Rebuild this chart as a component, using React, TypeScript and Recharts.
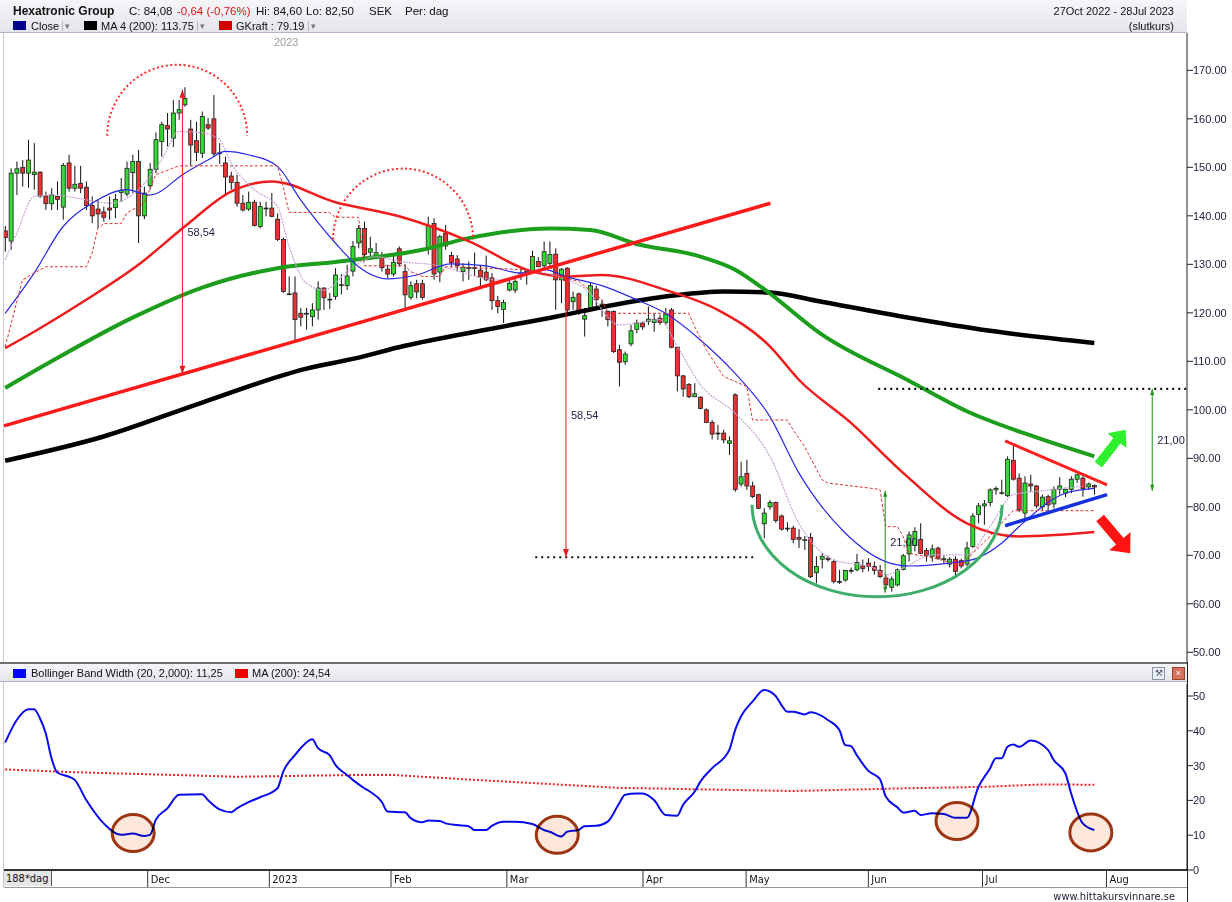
import React from 'react';
import { ComposedChart, Bar, Line, XAxis, YAxis, ReferenceLine, ReferenceDot } from 'recharts';

// Hexatronic Group, daily candles 27 Oct 2022 - 28 Jul 2023 (index = trading day)
const opens = [
  136.9, 134.8, 148.8, 150.0, 148.8, 148.5, 149.0, 144.1, 142.5, 144.0,
  141.8, 150.9, 145.7, 146.7, 145.9, 142.1, 141.4, 140.8, 141.6, 141.7,
  144.8, 144.5, 148.9, 151.2, 140.0, 146.2, 149.6, 155.3, 158.6, 156.0,
  161.2, 162.9, 157.9, 155.5, 152.9, 158.8, 160.0, 153.0, 150.9, 148.2,
  146.9, 142.6, 141.4, 142.8, 137.8, 141.6, 141.6, 139.3, 135.1, 123.9,
  124.1, 119.9, 119.9, 119.2, 120.6, 125.1, 122.8, 123.4, 125.8, 125.6,
  128.6, 134.4, 137.4, 132.5, 131.8, 131.8, 129.0, 128.0, 133.2, 128.5,
  123.2, 126.0, 126.0, 133.1, 138.4, 128.4, 136.4, 131.8, 131.1, 128.5,
  129.3, 129.3, 128.8, 128.4, 127.2, 122.5, 120.7, 124.7, 124.7, 128.2,
  128.6, 128.5, 130.6, 129.7, 130.2, 132.1, 126.8, 129.2, 122.3, 123.9,
  118.7, 120.7, 124.9, 121.8, 120.3, 120.3, 112.4, 109.9, 113.6, 116.6,
  117.9, 118.2, 118.0, 118.9, 118.0, 120.6, 112.9, 107.0, 105.2, 102.7,
  102.6, 100.0, 97.4, 95.2, 95.2, 93.1, 103.1, 84.7, 86.9, 84.3,
  82.5, 76.5, 80.0, 80.9, 78.1, 75.6, 75.6, 73.7, 73.2, 73.7,
  66.4, 69.2, 69.4, 68.7, 64.6, 64.9, 66.9, 67.0, 67.8, 68.4,
  67.7, 66.9, 65.3, 63.4, 63.9, 67.1, 70.3, 72.0, 73.3, 71.0,
  69.8, 71.5, 69.3, 68.2, 69.2, 68.9, 68.2, 71.8, 78.4, 80.2,
  80.9, 83.5, 82.9, 82.3, 89.6, 85.9, 78.7, 84.7, 84.3, 80.0,
  82.1, 80.6, 83.6, 82.8, 83.6, 85.7, 85.9, 84.1, 84.4,
];
const highs = [
  137.9, 149.8, 151.2, 151.5, 155.7, 155.0, 149.2, 145.0, 145.7, 147.1,
  150.9, 152.6, 150.3, 150.3, 147.1, 144.0, 143.3, 141.9, 144.0, 144.5,
  147.8, 151.2, 152.6, 153.6, 146.0, 150.9, 157.2, 159.4, 161.2, 163.9,
  163.9, 166.5, 159.8, 159.4, 161.5, 160.2, 164.9, 155.0, 152.2, 149.1,
  148.5, 144.3, 145.0, 143.3, 142.9, 142.9, 144.7, 140.5, 135.5, 127.5,
  127.5, 121.0, 121.0, 122.0, 126.5, 125.3, 124.1, 129.2, 128.0, 129.9,
  134.8, 138.1, 138.8, 135.7, 134.4, 132.6, 129.9, 132.3, 133.7, 130.1,
  126.5, 126.8, 126.8, 139.8, 139.5, 136.1, 138.1, 132.6, 131.9, 130.2,
  130.6, 132.4, 129.9, 131.8, 128.2, 123.5, 122.7, 126.8, 127.5, 128.9,
  128.9, 132.8, 131.5, 134.7, 134.7, 133.3, 129.2, 129.4, 124.4, 124.2,
  121.0, 126.1, 125.6, 122.7, 120.5, 120.5, 113.4, 112.0, 117.5, 118.6,
  118.2, 121.3, 119.9, 119.6, 121.0, 121.0, 113.1, 107.2, 105.5, 105.5,
  102.8, 100.3, 97.9, 96.9, 95.9, 94.5, 103.4, 89.3, 89.7, 85.2,
  82.7, 79.7, 81.4, 81.1, 78.4, 76.8, 76.1, 75.4, 74.0, 74.6,
  69.8, 70.4, 69.9, 69.1, 67.0, 67.0, 67.5, 70.3, 69.1, 69.4,
  68.7, 68.0, 66.0, 65.6, 67.3, 70.3, 74.9, 75.8, 76.6, 71.5,
  72.2, 71.8, 69.9, 69.6, 69.8, 69.3, 72.8, 78.7, 80.8, 81.4,
  83.8, 84.2, 85.6, 90.4, 92.8, 86.9, 86.3, 86.6, 84.5, 82.5,
  82.5, 84.2, 86.1, 84.0, 86.3, 86.8, 86.3, 85.0, 84.6,
];
const lows = [
  132.6, 133.0, 144.3, 146.0, 145.8, 145.4, 143.7, 141.2, 141.2, 141.2,
  139.2, 145.0, 145.0, 144.7, 141.2, 138.5, 137.5, 138.8, 139.2, 139.5,
  142.9, 144.0, 144.7, 134.4, 139.3, 145.4, 148.8, 152.2, 154.3, 154.2,
  159.8, 162.5, 150.2, 151.3, 151.9, 157.7, 152.2, 150.7, 144.3, 145.4,
  141.9, 140.9, 141.0, 137.8, 137.4, 139.9, 139.7, 134.8, 124.1, 123.7,
  114.4, 117.2, 116.5, 117.2, 118.6, 120.6, 120.8, 122.7, 123.8, 124.7,
  127.5, 133.3, 130.9, 130.9, 131.3, 128.5, 127.2, 127.5, 129.5, 121.0,
  122.7, 123.0, 122.7, 132.0, 126.8, 126.3, 133.0, 129.5, 128.5, 126.5,
  126.8, 127.5, 125.4, 126.5, 120.6, 119.9, 117.9, 124.4, 124.1, 126.8,
  125.8, 128.2, 129.4, 129.2, 129.5, 120.6, 122.0, 119.6, 120.6, 119.6,
  115.1, 120.3, 121.0, 119.2, 117.2, 111.7, 104.8, 109.3, 113.1, 115.8,
  116.5, 117.5, 116.1, 117.5, 117.5, 112.7, 103.8, 102.7, 102.4, 102.6,
  100.1, 97.3, 93.9, 93.8, 93.1, 90.7, 83.1, 84.2, 83.5, 81.8,
  79.5, 73.5, 79.4, 76.7, 75.1, 74.9, 72.5, 71.5, 71.1, 65.3,
  64.2, 67.3, 68.7, 64.2, 64.1, 64.6, 66.3, 66.7, 66.5, 66.7,
  66.0, 65.3, 63.2, 62.5, 63.6, 66.9, 68.7, 70.8, 70.3, 68.7,
  68.7, 69.1, 68.4, 67.5, 65.3, 67.3, 67.7, 71.5, 76.6, 76.3,
  80.1, 82.5, 82.5, 82.0, 85.4, 78.9, 77.5, 83.1, 79.7, 79.2,
  78.7, 79.7, 82.5, 82.0, 82.8, 84.9, 82.1, 83.5, 82.5,
];
const closes = [
  135.5, 148.8, 149.7, 148.8, 151.5, 149.0, 144.1, 142.5, 144.3, 143.4,
  150.4, 145.7, 146.5, 145.7, 142.1, 140.0, 140.4, 139.7, 141.2, 143.4,
  145.2, 149.8, 151.2, 140.0, 144.7, 149.6, 155.7, 158.8, 157.9, 161.2,
  161.9, 164.2, 154.6, 153.1, 160.5, 158.1, 152.8, 152.9, 148.0, 146.9,
  142.6, 141.2, 142.8, 138.0, 141.9, 141.6, 139.9, 135.1, 124.4, 123.9,
  118.6, 119.1, 119.9, 120.6, 125.1, 123.1, 122.8, 127.8, 125.8, 127.6,
  133.7, 137.4, 132.0, 133.2, 132.4, 129.3, 128.0, 130.4, 130.1, 123.7,
  125.6, 124.3, 123.2, 137.9, 128.0, 135.7, 133.8, 130.4, 129.7, 129.4,
  129.3, 129.3, 127.4, 126.8, 122.5, 121.3, 122.1, 126.1, 126.5, 128.2,
  128.6, 131.6, 129.5, 132.6, 132.0, 126.8, 129.0, 120.6, 123.2, 120.4,
  119.4, 125.6, 122.7, 121.2, 118.6, 112.0, 109.8, 111.5, 116.3, 117.9,
  117.1, 118.7, 118.6, 118.0, 119.7, 112.9, 107.0, 104.3, 102.7, 103.3,
  100.3, 97.4, 95.0, 95.2, 93.8, 93.6, 83.6, 86.2, 84.3, 82.1,
  79.7, 78.7, 80.9, 77.2, 75.4, 75.6, 73.3, 73.3, 73.2, 65.6,
  67.7, 69.8, 69.1, 64.6, 64.6, 66.9, 66.9, 68.5, 67.3, 67.7,
  66.9, 65.6, 63.9, 65.1, 67.0, 69.9, 74.2, 74.9, 70.4, 69.9,
  71.3, 69.4, 69.3, 69.2, 66.7, 67.8, 71.5, 78.1, 80.2, 80.6,
  83.5, 83.8, 82.9, 89.8, 85.7, 79.4, 84.9, 84.3, 80.2, 82.0,
  80.4, 83.6, 84.3, 83.6, 85.7, 86.6, 83.8, 84.7, 84.08,
];

// moving averages as [day index, value]
const ma200Pts = [[0, 89.5], [17, 94.5], [34, 101.5], [52, 108.5], [60, 110.5], [69, 113.2], [82, 116.3], [95, 119.2], [104, 121.4], [115, 123.5], [124, 124.4], [132, 124.2], [140, 122.5], [155, 119.2], [170, 116.3], [188, 113.8]];
const ma100Pts = [[0, 104.5], [8, 110.0], [22, 119.0], [34, 125.2], [47, 129.2], [57, 130.5], [72, 133.0], [80, 135.4], [94, 137.4], [101, 137.1], [109, 134.2], [120, 131.6], [126, 128.9], [131, 124.9], [141, 115.5], [156, 106.0], [166, 99.7], [178, 94.3], [188, 90.4]];
const ma50Pts = [[0, 112.7], [5, 116.1], [14, 122.7], [23, 129.9], [31, 137.8], [39, 145.0], [46, 147.1], [57, 142.8], [68, 139.9], [80, 134.8], [91, 128.5], [97, 127.5], [103, 127.8], [114, 124.7], [123, 120.6], [132, 113.1], [137, 106.2], [146, 97.3], [155, 87.0], [166, 76.6], [175, 73.9], [188, 74.8]];
const ma10Pts = [[0, 119.9], [5, 128.2], [10, 137.8], [15, 142.6], [21, 145.4], [25, 144.3], [31, 148.8], [35, 151.5], [38, 153.3], [42, 152.6], [47, 150.2], [51, 143.3], [57, 134.4], [61, 129.5], [66, 127.0], [71, 127.8], [77, 130.1], [83, 129.7], [89, 128.2], [93, 128.9], [97, 127.4], [103, 125.6], [109, 122.7], [114, 119.9], [120, 114.4], [126, 107.5], [132, 98.6], [137, 87.0], [145, 74.6], [152, 68.7], [156, 67.8], [163, 68.4], [167, 69.1], [172, 72.5], [175, 75.9], [183, 82.8], [188, 83.8]];
const ma5Pts = [[0, 130.9], [2, 136.4], [5, 144.0], [8, 144.3], [14, 143.3], [18, 142.6], [23, 145.4], [27, 151.5], [30, 157.4], [34, 157.1], [37, 155.7], [39, 150.9], [43, 145.4], [47, 141.9], [49, 133.7], [52, 126.1], [55, 124.7], [60, 129.5], [64, 131.6], [68, 130.6], [74, 129.9], [85, 126.8], [91, 128.5], [97, 126.8], [100, 125.1], [106, 117.5], [109, 117.9], [113, 118.6], [116, 113.1], [120, 105.2], [126, 99.3], [132, 90.4], [137, 76.6], [143, 69.1], [150, 67.4], [152, 66.0], [156, 68.0], [160, 70.1], [166, 70.1], [170, 75.9], [174, 82.5], [178, 83.2], [183, 83.8], [186, 84.3]];
const gkraftPts = [[0, 113.0], [3, 126.8], [5, 128.2], [7, 129.5], [14, 129.5], [15, 132.3], [16, 137.4], [17, 138.4], [20, 138.4], [21, 140.6], [24, 142.6], [26, 148.5], [30, 150.3], [47, 150.3], [48, 146.0], [49, 140.7], [56, 140.7], [57, 139.7], [61, 139.7], [62, 129.7], [69, 129.7], [70, 128.5], [72, 127.5], [75, 127.5], [76, 129.5], [90, 128.9], [95, 127.5], [99, 126.5], [103, 122.7], [104, 119.9], [118, 119.9], [119, 117.2], [121, 112.4], [124, 106.9], [128, 104.8], [129, 97.9], [135, 97.9], [136, 95.9], [138, 92.4], [141, 85.6], [142, 84.9], [151, 83.6], [152, 75.9], [154, 75.9], [155, 73.9], [156, 70.4], [160, 69.5], [165, 68.0], [170, 73.9], [172, 76.6], [173, 78.0], [174, 79.2], [188, 79.2]];

// Bollinger band width (20, 2) and its MA(200)
const bbwPts = [[0, 36.6], [2, 43.1], [4, 46.2], [5, 46.2], [6, 43.6], [7, 39.3], [8, 32.1], [9, 28.0], [11, 26.8], [12, 25.9], [14, 20.1], [17, 13.4], [20, 10.1], [22, 10.5], [24, 9.8], [25, 10.1], [26, 14.4], [28, 17.7], [30, 21.6], [34, 21.8], [35, 20.1], [37, 17.4], [39, 16.6], [40, 17.7], [42, 19.5], [44, 20.9], [47, 23.5], [48, 28.3], [50, 33.0], [51, 35.0], [53, 37.6], [54, 35.0], [56, 33.0], [57, 30.2], [59, 27.3], [60, 25.9], [62, 23.5], [63, 22.5], [65, 19.6], [66, 16.8], [69, 16.6], [70, 14.9], [72, 13.7], [73, 14.2], [75, 14.1], [76, 13.4], [78, 12.9], [80, 12.6], [81, 11.5], [83, 11.5], [84, 12.7], [86, 13.9], [88, 13.9], [91, 13.2], [93, 11.5], [94, 11.0], [96, 9.6], [97, 11.0], [99, 11.5], [100, 12.6], [102, 12.7], [104, 13.9], [106, 19.2], [107, 21.6], [109, 22.0], [110, 22.0], [112, 20.1], [114, 15.8], [116, 15.6], [117, 18.7], [119, 22.5], [120, 25.4], [122, 29.2], [125, 34.5], [126, 40.2], [127, 44.1], [129, 48.4], [131, 51.7], [133, 50.0], [134, 47.4], [135, 45.5], [136, 45.5], [138, 44.7], [139, 45.3], [140, 45.0], [142, 43.1], [144, 40.2], [145, 35.9], [146, 35.6], [147, 33.0], [149, 28.5], [151, 26.1], [152, 21.1], [154, 18.0], [155, 16.5], [157, 17.0], [158, 15.8], [160, 16.3], [162, 16.1], [164, 15.0], [166, 15.0], [168, 23.9], [170, 29.2], [171, 32.1], [172, 32.1], [173, 35.4], [174, 36.1], [175, 35.4], [177, 37.2], [180, 34.5], [181, 31.6], [183, 27.8], [184, 22.0], [186, 13.4], [188, 11.5]];
const bbwMaPts = [[0, 28.9], [10, 28.2], [40, 26.8], [61, 27.3], [67, 27.3], [81, 25.9], [106, 23.6], [136, 22.7], [156, 23.5], [169, 23.9], [179, 24.6], [188, 24.5]];

const monthTicks = [24.6, 45.6, 66.6, 86.6, 110.1, 127.9, 149.0, 168.7, 190.1];
const monthLabels = ['Dec', '2023', 'Feb', 'Mar', 'Apr', 'May', 'Jun', 'Jul', 'Aug'];
const priceTicks = [50, 60, 70, 80, 90, 100, 110, 120, 130, 140, 150, 160, 170];
const bbwTicks = [0, 10, 20, 30, 40, 50];

const xDomain: [number, number] = [-0.2, 204];
const FONT = "'Liberation Sans', Arial, sans-serif";
const NARROW = "'Liberation Sans Narrow', 'Arial Narrow', 'DejaVu Sans Condensed', sans-serif";

const pick = (pts: number[][]) => {
  const m = new Map(pts.map((p) => [p[0], p[1]]));
  return (i: number) => (m.has(i) ? m.get(i) : null);
};
const gMa200 = pick(ma200Pts), gMa100 = pick(ma100Pts), gMa50 = pick(ma50Pts);
const gMa10 = pick(ma10Pts), gMa5 = pick(ma5Pts), gGk = pick(gkraftPts);
const gBbw = pick(bbwPts), gBbwMa = pick(bbwMaPts);

const data = opens.map((o, i) => ({
  i, open: o, high: highs[i], low: lows[i], close: closes[i],
  ma200: gMa200(i), ma100: gMa100(i), ma50: gMa50(i), ma10: gMa10(i), ma5: gMa5(i), gk: gGk(i),
}));
const lowData = opens.map((_, i) => ({ i, bbw: gBbw(i), bbwMa: gBbwMa(i) }));

const Candle = (props: any) => {
  const { x, y, width, height, payload } = props;
  if (!payload || x == null) return null;
  const top = height >= 0 ? y : y + height;
  const h = Math.abs(height);
  const { open, close, high, low } = payload;
  const k = h / (high - low || 1);
  const cx = x + width / 2;
  const yO = top + (high - open) * k;
  const yC = top + (high - close) * k;
  const up = close >= open;
  return (
    <g>
      <line x1={cx} x2={cx} y1={top} y2={top + h} stroke="#111" strokeWidth={1} />
      <rect x={cx - 2} y={Math.min(yO, yC)} width={4} height={Math.max(Math.abs(yO - yC), 0.8)}
        fill={up ? '#2fdc2f' : '#ee3030'} stroke="#222" strokeWidth={0.8} />
    </g>
  );
};

const vArrow = (color: string, label: string, head: number) => (p: any) => {
  const { x1, y1, y2 } = p;
  const top = Math.min(y1, y2), bot = Math.max(y1, y2);
  return (
    <g>
      <line x1={x1} x2={x1} y1={top} y2={bot} stroke={color} strokeWidth={1} />
      <path d={`M${x1},${top} l-${head / 2},${head + 2} h${head} z`} fill={color} />
      <path d={`M${x1},${bot} l-${head / 2},-${head + 2} h${head} z`} fill={color} />
      <text x={x1 + 5} y={(top + bot) / 2 + 4} fontSize={11} fontFamily={FONT} fill="#22264a">{label}</text>
    </g>
  );
};

const fatArrow = (color: string, w: number, hw: number, hl: number) => (p: any) => {
  const { x1, y1, x2, y2 } = p;
  const len = Math.hypot(x2 - x1, y2 - y1) || 1;
  const ux = (x2 - x1) / len, uy = (y2 - y1) / len, nx = -uy, ny = ux;
  const bx = x2 - ux * hl, by = y2 - uy * hl;
  const pts = [
    [x1 + nx * w / 2, y1 + ny * w / 2], [bx + nx * w / 2, by + ny * w / 2], [bx + nx * hw / 2, by + ny * hw / 2],
    [x2, y2], [bx - nx * hw / 2, by - ny * hw / 2], [bx - nx * w / 2, by - ny * w / 2], [x1 - nx * w / 2, y1 - ny * w / 2],
  ];
  return <polygon points={pts.map((q) => q.join(',')).join(' ')} fill={color} />;
};

const arc = (rx: number, ry: number, upper: boolean, stroke: string, sw: number, dash?: string) => (p: any) => {
  const { cx, cy } = p;
  return (
    <path d={`M${cx - rx},${cy} A${rx},${ry} 0 0 ${upper ? 1 : 0} ${cx + rx},${cy}`}
      fill="none" stroke={stroke} strokeWidth={sw} strokeDasharray={dash} />
  );
};

// rings sit above the line layer, so multiply keeps the blue line visible through the peach fill
const ring = (p: any) => (
  <g style={{ mixBlendMode: 'multiply' }}>
    <ellipse cx={p.cx} cy={p.cy} rx={21} ry={18.5} fill="#fde6da" stroke="#9b3512" strokeWidth={3} />
  </g>
);

const MonthTick = (p: any) => {
  const { x, y, payload } = p;
  const label = monthLabels[monthTicks.indexOf(payload.value)];
  return (
    <g>
      <line x1={x} x2={x} y1={y + 1} y2={y + 17} stroke="#333" strokeWidth={1} />
      <text x={x + 3} y={y + 13} fontSize={11} fontFamily={NARROW} fill="#111">{label}</text>
    </g>
  );
};

const Box = ({ left, top, color }: { left: number; top: number; color: string }) => (
  <div style={{ position: 'absolute', left, top, width: 13, height: 9, background: color }} />
);
const Drop = ({ left, top }: { left: number; top: number }) => (
  <div style={{ position: 'absolute', left, top, fontSize: 9, color: '#777', borderLeft: '1px solid #bbb', paddingLeft: 2, lineHeight: '10px' }}>▾</div>
);
const T = ({ left, top, children, style }: any) => (
  <div style={{ position: 'absolute', left, top, lineHeight: '16px', whiteSpace: 'nowrap', ...style }}>{children}</div>
);

export default function App() {
  return (
    <div style={{ position: 'absolute', left: 0, top: 0, width: 1232, height: 902, background: '#fff', fontFamily: FONT, fontSize: 11, color: '#111', overflow: 'hidden' }}>
      {/* header */}
      <div style={{ position: 'absolute', left: 0, top: 0, width: 1187, height: 32, background: 'linear-gradient(#f6f6f9, #e4e4ec)', borderBottom: '1px solid #b4b4c8' }} />
      <T left={13} top={3} style={{ fontSize: 12, fontWeight: 'bold' }}>Hexatronic Group</T>
      <T left={129} top={3} style={{ fontSize: 11.5 }}>C: 84,08</T>
      <T left={177} top={3} style={{ fontSize: 11.5, color: '#e01010' }}>-0,64 (-0,76%)</T>
      <T left={256} top={3} style={{ fontSize: 11.5 }}>Hi: 84,60</T>
      <T left={306} top={3} style={{ fontSize: 11.5 }}>Lo: 82,50</T>
      <T left={369} top={3} style={{ fontSize: 11.5 }}>SEK</T>
      <T left={405} top={3} style={{ fontSize: 11.5 }}>Per: dag</T>
      <div style={{ position: 'absolute', left: 0, top: 3, width: 1174, textAlign: 'right', lineHeight: '16px', fontSize: 11 }}>27Oct 2022 - 28Jul 2023</div>
      <div style={{ position: 'absolute', left: 0, top: 18, width: 1174, textAlign: 'right', lineHeight: '16px', fontSize: 11 }}>(slutkurs)</div>
      <Box left={13} top={21} color="#00008b" />
      <T left={31} top={18}>Close</T>
      <Drop left={62} top={21} />
      <Box left={84} top={21} color="#000" />
      <T left={101} top={18}>MA 4 (200): 113.75</T>
      <Drop left={197} top={21} />
      <Box left={219} top={21} color="#d00000" />
      <T left={236} top={18}>GKraft : 79.19</T>
      <Drop left={308} top={21} />
      <T left={274} top={34} style={{ color: '#9a9a9a' }}>2023</T>

      {/* left border */}
      <div style={{ position: 'absolute', left: 3, top: 33, width: 1, height: 854, background: '#c8c8c8' }} />

      {/* main price chart */}
      <div style={{ position: 'absolute', left: 0, top: 0 }}>
        <ComposedChart width={1232} height={662} data={data} margin={{ top: 33, right: 0, bottom: 0, left: 4 }}>
          <XAxis dataKey="i" type="number" domain={xDomain} allowDataOverflow hide />
          <YAxis orientation="right" width={45} domain={[48, 177.7]} allowDataOverflow ticks={priceTicks} interval={0}
            tickFormatter={(v: number) => v.toFixed(2)} tickSize={6} tickMargin={0}
            tick={{ fontSize: 11, fill: '#1b1d3a', fontFamily: FONT }} axisLine={{ stroke: '#222' }} tickLine={{ stroke: '#222' }} />
          <Line dataKey="ma200" type="monotone" stroke="#000" strokeWidth={4.5} dot={false} connectNulls isAnimationActive={false} />
          <Line dataKey="ma100" type="monotone" stroke="#1c9e1c" strokeWidth={4} dot={false} connectNulls isAnimationActive={false} />
          <Line dataKey="ma50" type="monotone" stroke="#ee1c1c" strokeWidth={2.5} dot={false} connectNulls isAnimationActive={false} />
          <Line dataKey="ma5" type="monotone" stroke="#c9a2d8" strokeWidth={1.2} strokeDasharray="2 1" dot={false} connectNulls isAnimationActive={false} />
          <Line dataKey="ma10" type="monotone" stroke="#2a2ae6" strokeWidth={1.2} dot={false} connectNulls isAnimationActive={false} />
          <Line dataKey="gk" type="linear" stroke="#dd3333" strokeWidth={1} strokeDasharray="3 2" dot={false} connectNulls isAnimationActive={false} />
          <Bar dataKey={(d: any) => [d.low, d.high]} shape={Candle} isAnimationActive={false} />

          {/* annotations */}
          <ReferenceLine segment={[{ x: -0.2, y: 96.7 }, { x: 132.1, y: 142.6 }]} stroke="#ff1a1a" strokeWidth={3.5} ifOverflow="visible" />
          <ReferenceLine segment={[{ x: 91.5, y: 69.6 }, { x: 129.8, y: 69.6 }]} stroke="#111" strokeWidth={2.2} strokeDasharray="2 4" ifOverflow="visible" />
          <ReferenceLine segment={[{ x: 150.7, y: 104.3 }, { x: 204, y: 104.3 }]} stroke="#111" strokeWidth={2.2} strokeDasharray="2 4" ifOverflow="visible" />
          <ReferenceLine segment={[{ x: 30.6, y: 166.0 }, { x: 30.6, y: 107.46 }]} ifOverflow="visible" shape={vArrow('#e81c1c', '58,54', 6)} />
          <ReferenceLine segment={[{ x: 96.8, y: 128.2 }, { x: 96.8, y: 69.66 }]} ifOverflow="visible" shape={vArrow('#e81c1c', '58,54', 6)} />
          <ReferenceLine segment={[{ x: 151.9, y: 83.3 }, { x: 151.9, y: 62.3 }]} ifOverflow="visible" shape={vArrow('#1f8f1f', '21,00', 4)} />
          <ReferenceLine segment={[{ x: 198.0, y: 104.3 }, { x: 198.0, y: 83.3 }]} ifOverflow="visible" shape={vArrow('#1f8f1f', '21,00', 4)} />
          <ReferenceLine segment={[{ x: 172.6, y: 93.6 }, { x: 190.2, y: 84.5 }]} stroke="#ff2020" strokeWidth={3} ifOverflow="visible" />
          <ReferenceLine segment={[{ x: 172.6, y: 76.1 }, { x: 190.2, y: 82.5 }]} stroke="#1530e0" strokeWidth={3.5} ifOverflow="visible" />
          <ReferenceLine segment={[{ x: 188.7, y: 88.7 }, { x: 193.4, y: 95.9 }]} ifOverflow="visible" shape={fatArrow('#2ef02e', 9, 24, 14)} />
          <ReferenceLine segment={[{ x: 189.0, y: 77.7 }, { x: 194.2, y: 70.4 }]} ifOverflow="visible" shape={fatArrow('#ff1414', 10, 28, 16)} />
          <ReferenceDot x={29.7} y={156.5} r={1} ifOverflow="visible" shape={arc(70, 71, true, '#ff2a2a', 2, '2 2.5')} />
          <ReferenceDot x={68.7} y={135.1} r={1} ifOverflow="visible" shape={arc(70, 71, true, '#ff2a2a', 2, '2 2.5')} />
          <ReferenceDot x={150.5} y={80.4} r={1} ifOverflow="visible" shape={arc(125, 92, false, '#3fae6a', 3)} />
        </ComposedChart>
      </div>

      {/* separator + indicator header */}
      <div style={{ position: 'absolute', left: 0, top: 662, width: 1187, height: 2, background: '#707070' }} />
      <div style={{ position: 'absolute', left: 0, top: 664, width: 1187, height: 17, background: 'linear-gradient(#f6f6f9, #e4e4ec)', borderBottom: '1px solid #b4b4c8' }} />
      <Box left={13} top={669} color="#0000ff" />
      <T left={31} top={665}>Bollinger Band Width (20, 2,000): 11,25</T>
      <Box left={235} top={669} color="#ee0000" />
      <T left={252} top={665}>MA (200): 24,54</T>
      <div style={{ position: 'absolute', left: 1152, top: 667, width: 11, height: 11, background: '#e8eef4', border: '1px solid #8899aa', fontSize: 9, lineHeight: '11px', textAlign: 'center', color: '#556' }}>⚒</div>
      <div style={{ position: 'absolute', left: 1172, top: 667, width: 11, height: 11, background: '#d9705e', border: '1px solid #994433', fontSize: 9, lineHeight: '11px', textAlign: 'center', color: '#fff' }}>×</div>
      <div style={{ position: 'absolute', left: 1187, top: 662, width: 1, height: 240, background: '#222' }} />

      {/* Bollinger band width panel */}
      <div style={{ position: 'absolute', left: 0, top: 684 }}>
        <ComposedChart width={1232} height={204} data={lowData} margin={{ top: 0, right: 0, bottom: 0, left: 4 }}>
          <XAxis dataKey="i" type="number" domain={xDomain} allowDataOverflow ticks={monthTicks} interval={0} height={18}
            tickLine={false} tickSize={0} tickMargin={0} axisLine={{ stroke: '#333', strokeWidth: 2 }} tick={MonthTick} />
          <YAxis orientation="right" width={45} domain={[0, 53.45]} allowDataOverflow ticks={bbwTicks} interval={0}
            tickSize={6} tickMargin={0} tick={{ fontSize: 11, fill: '#1b1d3a', fontFamily: FONT }}
            axisLine={{ stroke: '#222' }} tickLine={{ stroke: '#222' }} />
          <ReferenceDot x={22.1} y={10.6} r={1} ifOverflow="visible" shape={ring} />
          <ReferenceDot x={95.3} y={10.1} r={1} ifOverflow="visible" shape={ring} />
          <ReferenceDot x={164.3} y={14.1} r={1} ifOverflow="visible" shape={ring} />
          <ReferenceDot x={187.4} y={10.8} r={1} ifOverflow="visible" shape={ring} />
          <Line dataKey="bbwMa" type="linear" stroke="#ee2222" strokeWidth={2} strokeDasharray="2 2" dot={false} connectNulls isAnimationActive={false} />
          <Line dataKey="bbw" type="monotone" stroke="#0a0aee" strokeWidth={2} dot={false} connectNulls isAnimationActive={false} />
        </ComposedChart>
      </div>
      <div style={{ position: 'absolute', left: 4, top: 871, width: 48, height: 15, background: '#e6e6e6', borderRight: '1px solid #555', fontFamily: NARROW, fontSize: 11, lineHeight: '15px', paddingLeft: 2, boxSizing: 'border-box' }}>188*dag</div>
      <div style={{ position: 'absolute', left: 4, top: 887, width: 1183, height: 1, background: '#999' }} />
      <div style={{ position: 'absolute', left: 0, top: 889, width: 1175, textAlign: 'right', fontFamily: NARROW, fontSize: 11, lineHeight: '16px', color: '#223' }}>www.hittakursvinnare.se</div>
    </div>
  );
}
